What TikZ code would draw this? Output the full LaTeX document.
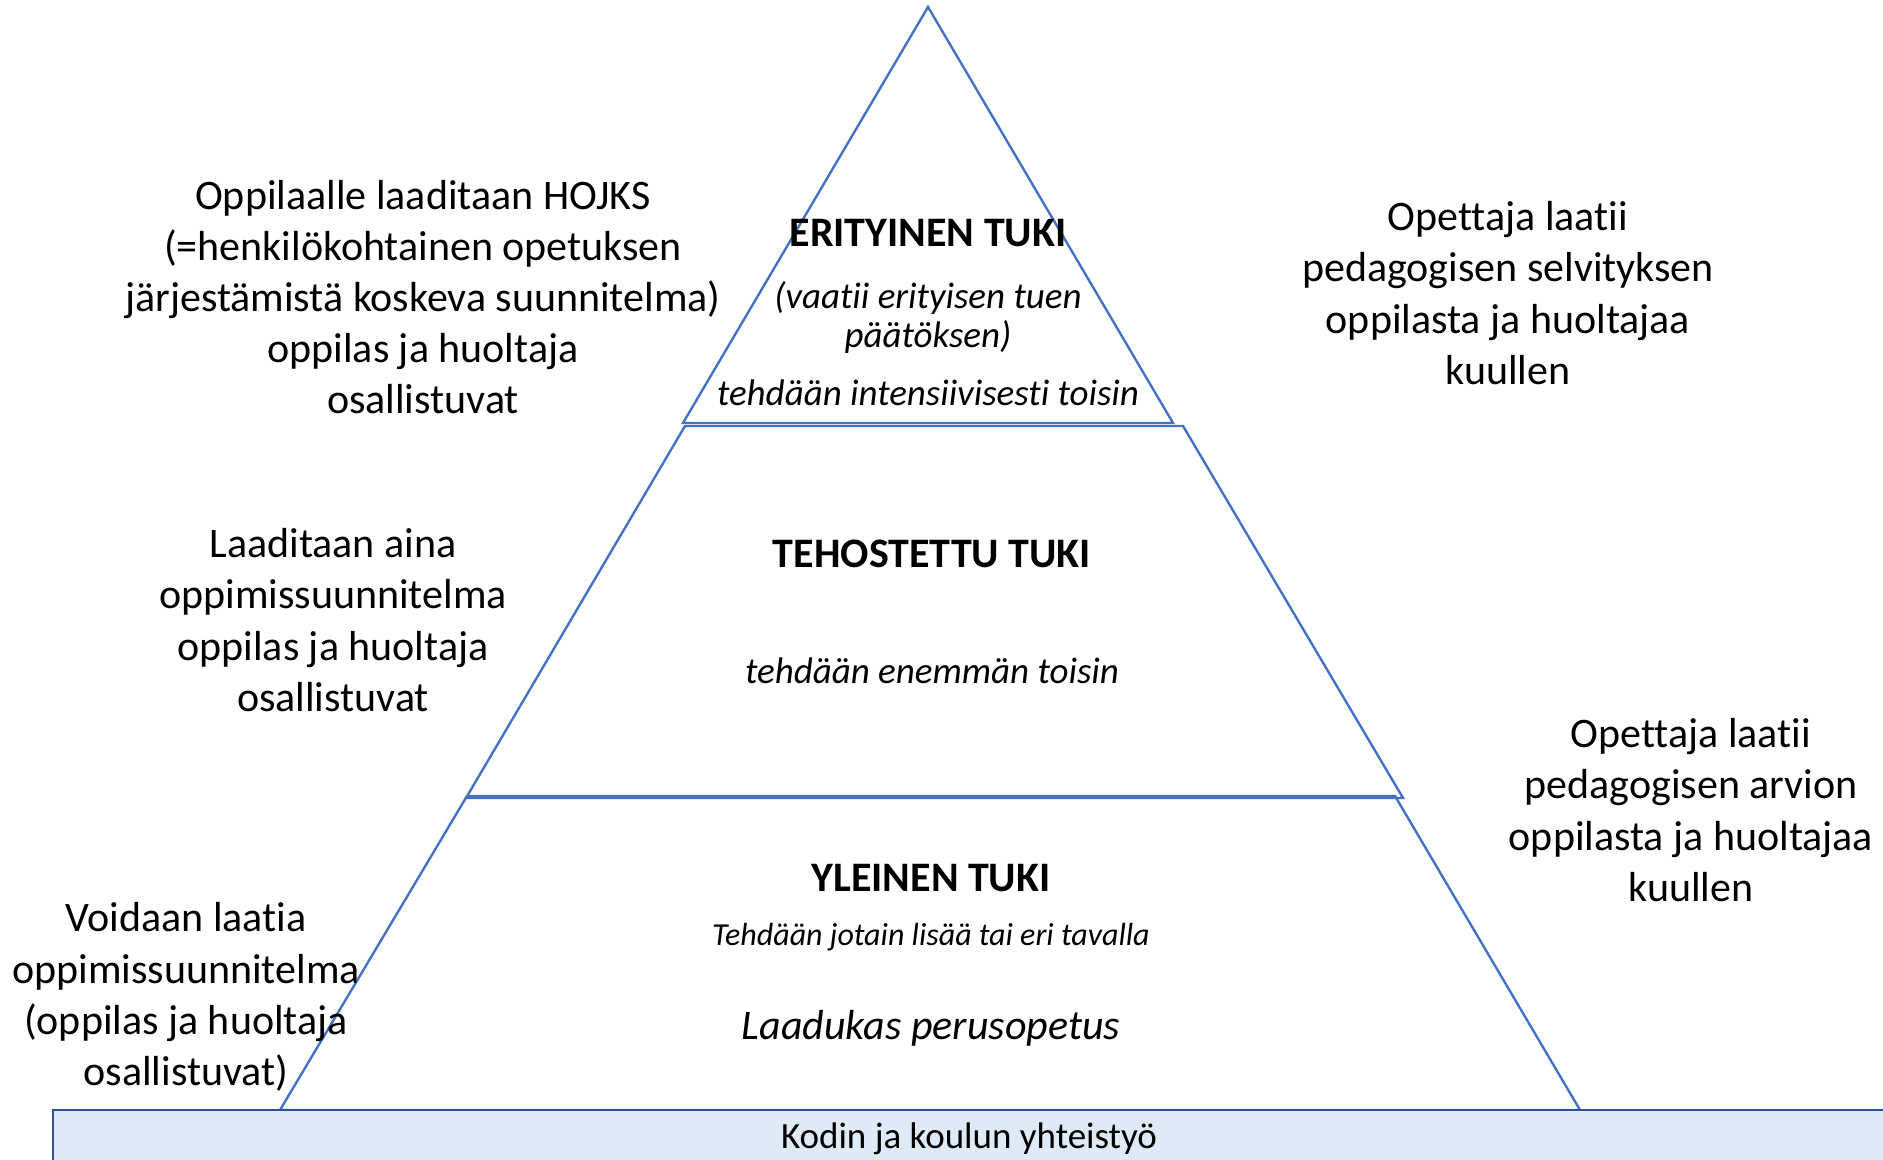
\documentclass[tikz,border=0pt]{standalone}
\usepackage{fontspec}
\setmainfont{Carlito}[Ligatures = NoCommon]

\definecolor{pyramidblue}{HTML}{4472C4}
\definecolor{barfill}{HTML}{DEEBF7}
\definecolor{barline}{HTML}{2F528F}

\begin{document}
\begin{tikzpicture}[
			x = 0.5pt, y = -0.5pt,
			tier/.style = {draw = pyramidblue, line width = 1.2pt},
			bar/.style = {
				draw = barline, fill = barfill, line width = 1.4pt,
			},
			sidetext/.style = {
				align = center, inner sep = 0,
				font = \fontsize{21}{25.6}\selectfont,
			},
			tiertitle/.style = {
				inner sep = 0, font = \fontsize{21}{25}\selectfont\bfseries,
			},
			tiernote/.style = {
				align = center, inner sep = 0,
				font = \fontsize{18.5}{19.5}\selectfont\itshape,
			},
		]

		\useasboundingbox (0, 0) rectangle (1883, 1160);

		% pyramid levels
		\draw[tier] (928, 7) -- (1173, 423) -- (683, 423) -- cycle;
		\draw[tier] (685, 426) -- (1183, 426) -- (1403, 798) -- (466, 798) -- cycle;
		\draw[tier] (467, 796) -- (1395, 796) -- (1580, 1110) -- (280, 1110) -- cycle;

		% base bar
		\draw[bar] (53, 1110) rectangle (1895, 1175);
		\node[inner sep = 0, font = \fontsize{18.5}{22}\selectfont]
			(kodin) at (969, 1139) {Kodin ja koulun yhteistyö};

		% texts inside the pyramid
		\node[tiertitle] (erityinen) at (928, 233) {ERITYINEN TUKI};
		\node[tiernote] (vaatii) at (928, 317) {(vaatii erityisen tuen\\päätöksen)};
		\node[tiernote] (intensiivi) at (928, 393) {tehdään intensiivisesti toisin};

		\node[tiertitle] (tehostettu) at (932, 554) {TEHOSTETTU TUKI};
		\node[tiernote] (enemman) at (932, 671) {tehdään enemmän toisin};

		\node[tiertitle] (yleinen) at (931, 878) {YLEINEN TUKI};
		\node[tiernote, font = \fontsize{16}{19}\selectfont\itshape]
			(jotain) at (931, 937) {Tehdään jotain lisää tai eri tavalla};
		\node[tiernote, font = \fontsize{21}{25}\selectfont\itshape]
			(laadukas) at (931, 1028) {Laadukas perusopetus};

		% texts beside the pyramid
		\node[sidetext] (hojks) at (423, 297) {Oppilaalle laaditaan HOJKS\\
			(=henkilökohtainen opetuksen\\järjestämistä koskeva suunnitelma)\\
			oppilas ja huoltaja\\osallistuvat};
		\node[sidetext] (aina) at (333, 620) {Laaditaan aina\\oppimissuunnitelma\\
			oppilas ja huoltaja\\osallistuvat};
		\node[sidetext] (voidaan) at (186, 997) {Voidaan laatia\\oppimissuunnitelma\\
			(oppilas ja huoltaja\\osallistuvat)};
		\node[sidetext] (selvitys) at (1508, 293) {Opettaja laatii\\
			pedagogisen selvityksen\\oppilasta ja huoltajaa\\kuullen};
		\node[sidetext] (arvio) at (1691, 810) {Opettaja laatii\\
			pedagogisen arvion\\oppilasta ja huoltajaa\\kuullen};

	\end{tikzpicture}
\end{document}
